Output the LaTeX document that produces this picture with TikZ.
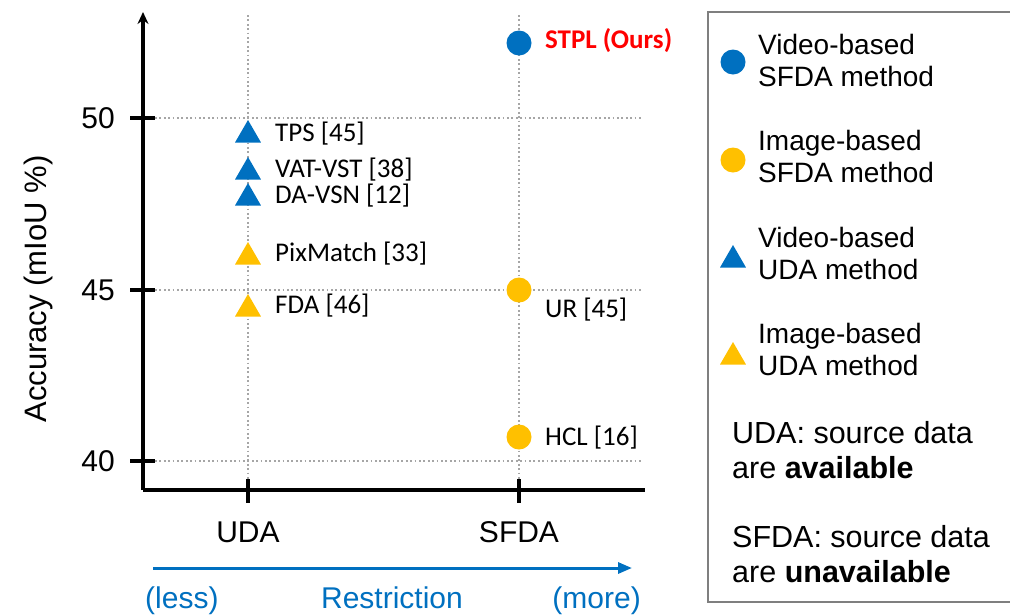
\documentclass[tikz,border=0pt]{standalone}
\usepackage{fontspec}
\setmainfont{Liberation Sans}
\newfontfamily\calibfont{Carlito}
\usetikzlibrary{shapes.geometric,arrows.meta}
\definecolor{vidblue}{HTML}{0070C0}
\definecolor{imgyellow}{HTML}{FFC000}
\definecolor{gridgray}{HTML}{A6A6A6}
\definecolor{boxgray}{HTML}{7F7F7F}
\definecolor{oursred}{HTML}{FF0000}

\begin{document}
\begin{tikzpicture}[x=1pt,y=-1pt,
  gridline/.style={gridgray, line width=1.8pt, dash pattern=on 1.8pt off 2.6pt},
  axisline/.style={black, line width=3.5pt},
  tickline/.style={black, line width=3.5pt},
  dotmark/.style={circle, minimum size=25pt, inner sep=0pt, outer sep=0pt},
  trimark/.style={regular polygon, regular polygon sides=3, minimum size=30pt, inner sep=0pt, outer sep=0pt},
  axisfont/.style={font=\fontsize{30}{36}\selectfont, inner sep=0pt},
  ptlabel/.style={font=\calibfont\fontsize{27}{32}\selectfont, inner sep=0pt, anchor=west},
  legtext/.style={font=\fontsize{28}{32}\selectfont, inner sep=0pt, anchor=west, align=left},
  notetext/.style={font=\fontsize{30.5}{35}\selectfont, inner sep=0pt, anchor=west, align=left},
  restext/.style={font=\fontsize{30}{36}\selectfont, inner sep=0pt, text=vidblue, anchor=base}]
\useasboundingbox (0,0) rectangle (1010,614);

% dotted grid
\draw[gridline] (155,118) -- (642,118);
\draw[gridline] (155,290) -- (642,290);
\draw[gridline] (155,461) -- (642,461);
\draw[gridline] (248,15) -- (248,490);
\draw[gridline] (519,15) -- (519,490);

% axes
\coordinate (origin) at (143,490);
\coordinate (ytop) at (143,12);
\coordinate (xend) at (645,490);
\draw[axisline, -{Stealth[length=12pt,width=11pt]}] (origin) -- (ytop);
\draw[axisline] (origin) -- (xend);

% y ticks and labels
\foreach \yy/\val in {118/50, 290/45, 461/40} {
  \draw[tickline] (130,\yy) -- (155,\yy);
  \node[axisfont, anchor=east] (ytick\val) at (115,\yy) {\val};
}
\node[axisfont, font=\fontsize{31}{36}\selectfont, rotate=90] (ylabel) at (38,289) {Accuracy (mIoU \%)};

% x ticks and labels
\draw[tickline] (248,479) -- (248,503);
\draw[tickline] (519,479) -- (519,503);
\node[axisfont] (xuda) at (248,532) {UDA};
\node[axisfont] (xsfda) at (519,532) {SFDA};

% restriction arrow
\coordinate (rstart) at (153,568);
\coordinate (rend) at (632,568);
\draw[vidblue, line width=3pt, -{Triangle[length=14pt,width=11pt]}] (rstart) -- (rend);
\node[restext, anchor=base west] (less) at (145,608) {(less)};
\node[restext] (restr) at (392,608) {Restriction};
\node[restext, anchor=base east] (more) at (641,608) {(more)};

% UDA methods
\node[trimark, fill=vidblue] (tps) at (248,135) {};
\node[trimark, fill=vidblue] (vat) at (248,172) {};
\node[trimark, fill=vidblue] (davsn) at (248,198) {};
\node[trimark, fill=imgyellow] (pix) at (248,257) {};
\node[trimark, fill=imgyellow] (fda) at (248,309) {};
\node[ptlabel] (ltps) at (275,134) {TPS [45]};
\node[ptlabel] (lvat) at (275,170) {VAT-VST [38]};
\node[ptlabel] (ldavsn) at (275,196) {DA-VSN [12]};
\node[ptlabel] (lpix) at (275,254) {PixMatch [33]};
\node[ptlabel] (lfda) at (275,306) {FDA [46]};

% SFDA methods
\node[dotmark, fill=vidblue] (stpl) at (519,43) {};
\node[dotmark, fill=imgyellow] (ur) at (519,290) {};
\node[dotmark, fill=imgyellow] (hcl) at (519,437) {};
\node[ptlabel, text=oursred, font=\calibfont\bfseries\fontsize{27}{32}\selectfont] (lstpl) at (545,41) {STPL (Ours)};
\node[ptlabel] (lur) at (545,310) {UR [45]};
\node[ptlabel] (lhcl) at (545,438) {HCL [16]};

% legend frame
\draw[boxgray, line width=1.8pt] (1012,12) -- (708,12) -- (708,602) -- (1012,602);

% legend entries
\node[dotmark, fill=vidblue] (kvs) at (733,62) {};
\node[legtext] (tvs) at (758,60) {Video-based\\SFDA method};
\node[dotmark, fill=imgyellow] (kis) at (733,160) {};
\node[legtext] (tis) at (758,156) {Image-based\\SFDA method};
\node[trimark, fill=vidblue] (kvu) at (733,260) {};
\node[legtext] (tvu) at (758,253) {Video-based\\UDA method};
\node[trimark, fill=imgyellow] (kiu) at (733,357) {};
\node[legtext] (tiu) at (758,349) {Image-based\\UDA method};

% notes
\node[notetext] (nuda) at (732,450) {UDA: source data\\are \textbf{available}};
\node[notetext] (nsfda) at (732,554) {SFDA: source data\\are \textbf{unavailable}};
\end{tikzpicture}
\end{document}
